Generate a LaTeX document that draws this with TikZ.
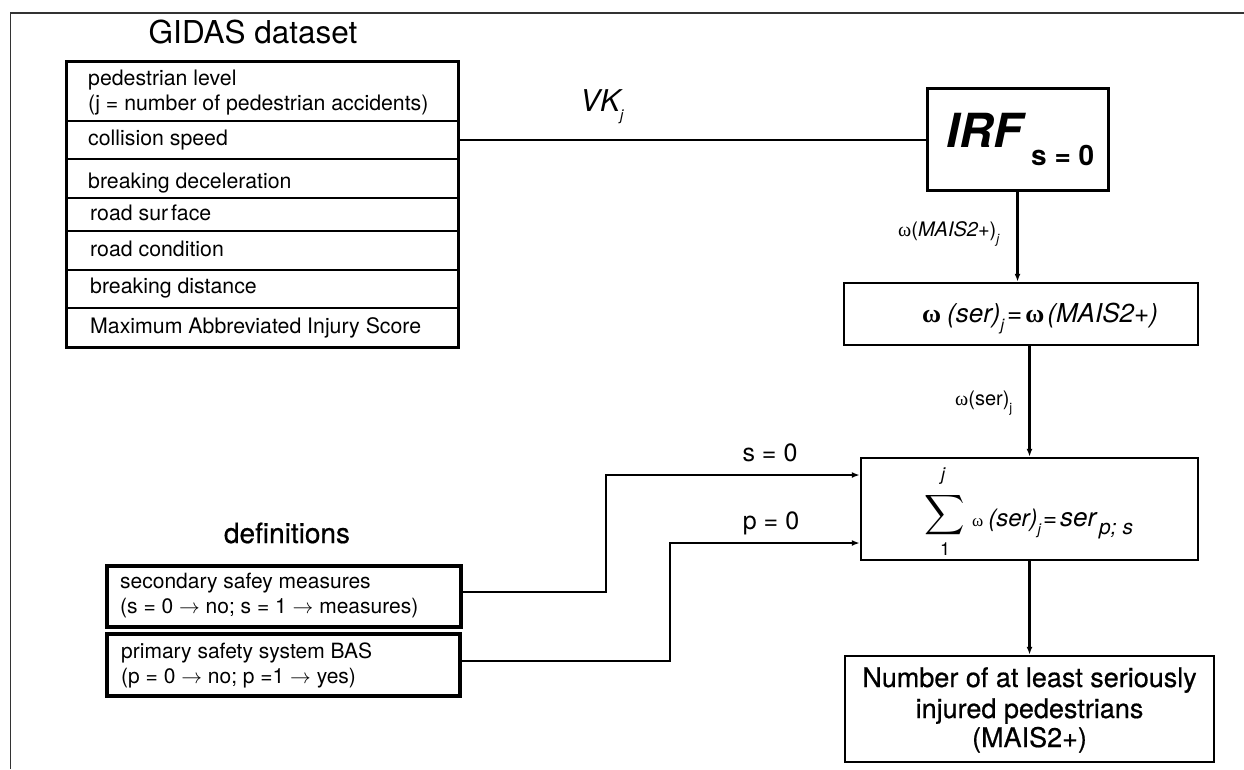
\documentclass[tikz,border=0pt]{standalone}
\usepackage{fontspec}
\setmainfont{TeX Gyre Heros}
\newfontfamily\grk{Liberation Serif}
\newfontfamily\medfont[FakeBold=0.6]{TeX Gyre Heros}
\usetikzlibrary{arrows.meta}
\newcommand\fsz[1]{\fontsize{#1}{#1}\selectfont}
\begin{document}
\begin{tikzpicture}[x=1pt,y=-1pt,
  box/.style={draw, rectangle, inner sep=0pt, line width=2.5pt},
  conn/.style={line width=2.8pt},
  tip/.style={-{Latex[length=8pt,width=6pt]}},
  txt/.style={inner sep=0pt, anchor=base west},
  ctr/.style={inner sep=0pt, anchor=base}]
\useasboundingbox (0,0) rectangle (1244,769);
% frame
\draw[line width=1.3pt, black!80] (10.5,769) -- (10.5,13) -- (1244,13);
% title
\node[ctr] (title) at (253,43) {\fsz{31.5}GIDAS dataset};
% GIDAS table
\node[box, line width=3pt, minimum width=392pt, minimum height=286pt] (gidas) at (262.75,204) {};
\foreach \yy in {121,159,198,231,270,308}
  \draw[line width=1.5pt] (gidas.west |- 0,\yy) -- (gidas.east |- 0,\yy);
\begin{scope}[every node/.append style={font=\fsz{21.3}}]
\node[txt] (t1) at (88,85) {pedestrian level};
\node[txt] (t2) at (88,110) {(j = number of pedestrian accidents)};
\node[txt] (t3) at (88,145) {collision speed};
\node[txt] (t4) at (88,188) {breaking deceleration};
\node[txt] (t5) at (90,220) {road sur\kern3pt face};
\node[txt] (t6) at (90,256) {road condition};
\node[txt] (t7) at (90,293) {breaking distance};
\node[txt] (t8) at (90,333) {Maximum Abbreviated Injury Score};
\end{scope}
% VK label and line
\node[txt] (vk) at (580,111) {\fsz{30}\itshape VK\raisebox{-9pt}{\fsz{15}j}};
% IRF box
\node[box, line width=3pt, minimum width=181pt, minimum height=102pt] (irf) at (1017.5,139) {};
\node[txt] (irft) at (946,147) {\fsz{47}\bfseries\itshape IRF};
\node[txt] (irfs) at (1031,165) {\fsz{28}\bfseries s = 0};
\draw[conn] (gidas.east |- 0,140) -- (irf.west |- 0,140);
% omega box
\node[box, minimum width=354pt, minimum height=62pt] (omega) at (1021,314) {};
\node[txt] (omt) at (922,322) {{\grk\bfseries\fsz{26}ω}\hspace{6pt}{\fsz{26}\itshape(ser)}\raisebox{-8pt}{\fsz{16}\itshape j}\hspace{3pt}{\fsz{26}=}\hspace{3pt}{\grk\bfseries\fsz{26}ω}\hspace{3pt}{\fsz{26}\itshape(MAIS2+)}};
\draw[conn, tip] (irf.south) -- (omega.north -| irf.south);
\node[txt] (lab1) at (898,236) {{\grk\fsz{20}ω}{\fsz{20}(\textit{MAIS2+})}\raisebox{-7pt}{\fsz{13}\itshape j}};
% sum box
\node[box, minimum width=337pt, minimum height=102pt] (sum) at (1029.5,509) {};
\draw[conn, tip] (sum.north |- omega.south) -- (sum.north);
\node[txt] (lab2) at (955,405) {{\grk\fsz{20}ω}{\fsz{20}(ser)}\raisebox{-7pt}{\fsz{13}j}};
\node[inner sep=0pt] (sig) at (944.5,522) {\smash{\scalebox{2.8}{$\displaystyle\sum$}}};
\node[ctr] (sj) at (943,480) {\fsz{18}\itshape j};
\node[ctr] (s1) at (945,555) {\fsz{18}1};
\node[txt] (sumt) at (972,526) {{\grk\fsz{17}ω}\hspace{5pt}{\fsz{24}\itshape(ser)}\raisebox{-8pt}{\fsz{15}\itshape j}\hspace{2pt}{\fsz{24}=}\hspace{3pt}{\fsz{26}\itshape ser}\hspace{3pt}\raisebox{-8pt}{\fsz{21}\itshape p; s}};
% bottom box
\node[box, minimum width=369pt, minimum height=106pt] (bot) at (1029.5,709) {};
\node[ctr] (b1) at (1029.5,687) {\medfont\fsz{27}Number of at least seriously};
\node[ctr] (b2) at (1029.5,718) {\medfont\fsz{27}injured pedestrians};
\node[ctr] (b3) at (1029.5,747) {\medfont\fsz{27}(MAIS2+)};
\draw[conn, tip] (sum.south) -- (bot.north);
% definitions
\node[ctr] (deft) at (287,543) {\medfont\fsz{28}definitions};
\node[box, line width=3.5pt, minimum width=354pt, minimum height=61pt] (def1) at (284,596.5) {};
\node[box, line width=3.5pt, minimum width=353pt, minimum height=62pt] (def2) at (283.5,665) {};
\begin{scope}[every node/.append style={font=\fsz{21}}]
\node[txt] (d1) at (120,588) {secondary safey measures};
\node[txt] (d2) at (120,613) {(s = 0 $\rightarrow$ no; s = 1 $\rightarrow$ measures)};
\node[txt] (d3) at (121,658) {primary safety system BAS};
\node[txt] (d4) at (121,683) {(p = 0 $\rightarrow$ no; p =1 $\rightarrow$ yes)};
\end{scope}
% s and p connectors
\draw[conn, tip] (def1.east |- 0,592) -- (606,592) -- (606,475) -- (sum.west |- 0,475);
\draw[conn, tip] (def2.east |- 0,661) -- (670,661) -- (670,543) -- (sum.west |- 0,543);
\node[ctr] (sl) at (770,461) {\fsz{25}s = 0};
\node[ctr] (pl) at (771,529) {\fsz{25}p = 0};
\end{tikzpicture}
\end{document}
